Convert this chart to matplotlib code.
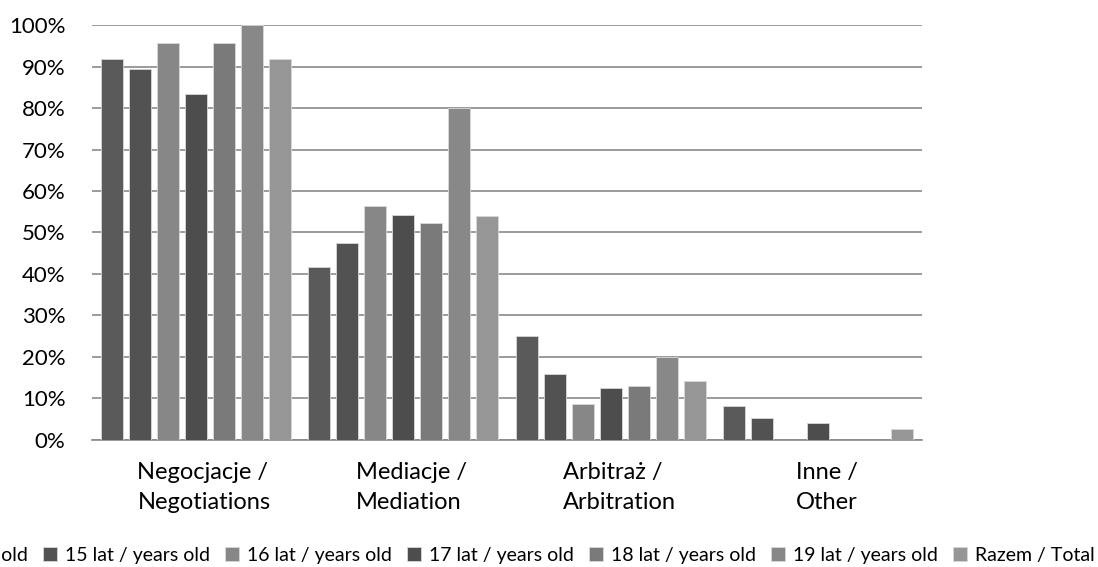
import matplotlib.pyplot as plt
from matplotlib.patches import Patch
from matplotlib.transforms import blended_transform_factory
import numpy as np

plt.rcParams['font.family'] = ['Lato', 'DejaVu Sans']

# Datos (porcentajes)
categorias = ["Negocjacje /\nNegotiations", "Mediacje /\nMediation",
              "Arbitraż /\nArbitration", "Inne /\nOther"]
series = ["14 lat / years old", "15 lat / years old", "16 lat / years old",
          "17 lat / years old", "18 lat / years old", "19 lat / years old",
          "Razem / Total"]
lat14 = [91.7, 41.7, 25.0, 8.3]
lat15 = [89.5, 47.4, 15.8, 5.3]
lat16 = [95.7, 56.5, 8.7, 0.0]
lat17 = [83.3, 54.2, 12.5, 4.2]
lat18 = [95.7, 52.2, 13.0, 0.0]
lat19 = [100.0, 80.0, 20.0, 0.0]
razem = [91.7, 53.9, 14.3, 2.7]
valores = [lat14, lat15, lat16, lat17, lat18, lat19, razem]

colores = ['#5a5a5a', '#525252', '#878787', '#4d4d4d', '#7a7a7a', '#888888', '#969696']

fig = plt.figure(figsize=(10.98, 5.67), dpi=100)
ax = fig.add_axes([0.0838, 0.224, 0.7559, 0.7319])

x = np.arange(len(categorias))
paso = 0.135
ancho = 0.106
for i, vals in enumerate(valores):
    ax.bar(x + (i - 3) * paso, np.array(vals) / 100.0, width=ancho, color=colores[i],
           edgecolor='#d8d8d8', linewidth=0.6, zorder=3)

ax.set_xlim(-0.5, 3.5)
ax.set_ylim(0, 1)
ax.set_yticks(np.arange(0, 1.01, 0.1))
ax.set_yticklabels(['%d%%' % v for v in range(0, 101, 10)])
ax.yaxis.grid(True, color='#8a8a8a', linewidth=1.2, zorder=0)
ax.tick_params(axis='y', length=0, pad=19, labelsize=16)
ax.set_xticks([])
for s in ['top', 'right', 'left']:
    ax.spines[s].set_visible(False)
ax.spines['bottom'].set_color('#8a8a8a')
ax.spines['bottom'].set_linewidth(1.2)

trans = blended_transform_factory(ax.transData, ax.transAxes)
for i, cat in enumerate(categorias):
    ax.text(i + 0.04, -0.052, cat, transform=trans, ha='center', va='top',
            multialignment='left', fontsize=17, linespacing=1.55)

# leyenda: en el original la primera entrada queda cortada por el borde izquierdo
manijas = [Patch(facecolor=c, edgecolor='#d8d8d8', linewidth=0.6) for c in colores]
fig.legend(manijas, series, loc='center right', bbox_to_anchor=(1095 / 1098, 0.021),
           ncol=7, frameon=False, fontsize=14, handlelength=0.72, handleheight=0.72,
           handletextpad=0.41, columnspacing=0.78, borderpad=0, borderaxespad=0)

fig.savefig('out.png', dpi=100)
